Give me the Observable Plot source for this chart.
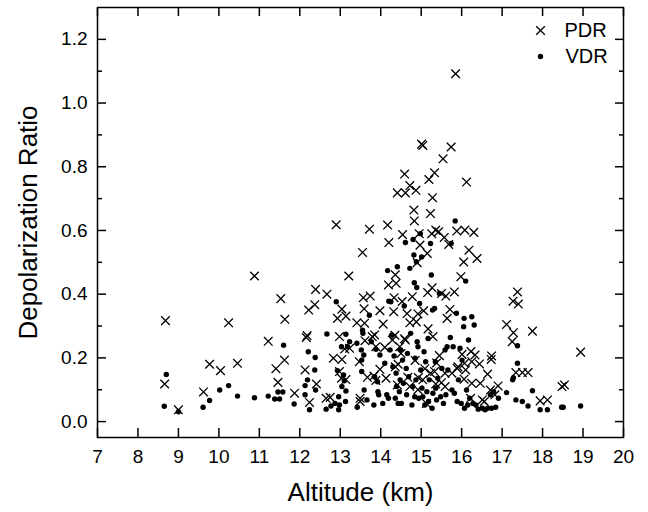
<!DOCTYPE html>
<html>
<head>
<meta charset="utf-8">
<script src="https://cdn.jsdelivr.net/npm/d3@7"></script>
<script src="https://cdn.jsdelivr.net/npm/@observablehq/plot@0.6"></script>
<style>
  html, body { margin: 0; padding: 0; background: #fff; }
</style>
</head>
<body>
<div id="chart"></div>
<script>
// PDR (particle depolarization ratio) points: altitude (km), ratio
const pdrAlt = [8.68,8.66,9.0,9.62,9.77,10.04,10.24,10.46,10.88,11.22,11.41,11.46,11.53,11.62,11.63,11.87,12.13,12.16,12.18,12.22,12.24,12.37,12.39,12.41,12.67,12.75,12.83,12.9,12.93,12.98,13.04,13.04,13.11,13.14,13.14,13.21,13.41,13.47,13.49,13.55,13.57,13.59,13.6,13.61,13.67,13.72,13.74,13.83,13.85,13.88,13.98,14.06,14.1,14.13,14.17,14.19,14.2,14.29,14.32,14.33,14.35,14.36,14.38,14.41,14.43,14.47,14.53,14.54,14.59,14.61,14.59,14.65,14.67,14.72,14.72,14.78,14.82,14.83,14.85,14.87,14.88,14.9,14.92,14.93,14.95,14.97,15.01,15.04,15.06,15.09,15.15,15.16,15.17,15.19,15.23,15.26,15.28,15.27,15.29,15.33,15.36,15.38,15.43,15.45,15.5,15.54,15.57,15.59,15.61,15.64,15.68,15.71,15.74,15.76,15.82,15.85,15.88,15.91,15.98,16.01,16.05,16.06,16.08,16.1,16.12,16.18,16.23,16.25,16.3,16.33,16.38,16.44,16.51,16.64,16.74,16.73,16.9,17.11,17.25,17.28,17.27,17.34,17.38,17.4,17.5,17.64,17.75,17.94,18.12,18.48,18.54,18.94,15.36,15.5,15.89,16.07,16.22,16.82,14.72,14.92,15.23,14.5,14.36,13.98,13.88,14.41,15.04,15.33,15.59,15.13,13.49,13.03,12.98,16.25,16.46,16.56,16.71,12.65,13.23,13.79,14.61];
const pdrRatio = [0.317,0.118,0.037,0.093,0.18,0.16,0.31,0.183,0.457,0.252,0.166,0.123,0.386,0.193,0.321,0.089,0.162,0.264,0.27,0.35,0.06,0.367,0.415,0.118,0.40,0.076,0.199,0.618,0.324,0.267,0.353,0.195,0.228,0.331,0.132,0.457,0.31,0.188,0.063,0.531,0.389,0.354,0.309,0.254,0.139,0.604,0.394,0.143,0.272,0.235,0.348,0.306,0.233,0.136,0.617,0.429,0.562,0.256,0.345,0.389,0.271,0.461,0.434,0.718,0.18,0.235,0.377,0.587,0.777,0.718,0.26,0.339,0.139,0.741,0.31,0.392,0.664,0.63,0.192,0.726,0.313,0.499,0.338,0.138,0.59,0.554,0.871,0.867,0.348,0.166,0.528,0.405,0.291,0.76,0.653,0.59,0.703,0.42,0.267,0.781,0.601,0.184,0.596,0.207,0.402,0.825,0.578,0.11,0.394,0.324,0.556,0.352,0.862,0.152,0.407,1.092,0.598,0.172,0.455,0.211,0.501,0.133,0.601,0.162,0.752,0.538,0.22,0.188,0.594,0.209,0.512,0.181,0.068,0.149,0.206,0.195,0.112,0.305,0.251,0.279,0.378,0.154,0.407,0.369,0.154,0.154,0.284,0.065,0.068,0.11,0.115,0.218,0.118,0.122,0.167,0.183,0.073,0.084,0.11,0.1,0.152,0.214,0.172,0.164,0.129,0.115,0.131,0.157,0.152,0.057,0.073,0.136,0.157,0.12,0.12,0.063,0.099,0.073,0.23,0.267,0.256];

// VDR (volume depolarization ratio) points: altitude (km), ratio
const vdrAlt = [8.65,8.7,9.0,9.61,9.77,10.02,10.24,10.46,10.88,11.22,11.38,11.5,11.46,11.58,11.6,11.86,12.13,12.13,12.19,12.21,12.24,12.37,12.38,12.39,12.65,12.67,12.77,12.87,12.9,12.93,12.96,12.96,12.98,13.03,13.04,13.08,13.1,13.13,13.14,13.14,13.18,13.23,13.41,13.42,13.52,13.53,13.53,13.55,13.56,13.58,13.59,13.66,13.72,13.77,13.83,13.85,13.88,13.92,13.93,13.95,13.98,14.05,14.1,14.15,14.17,14.19,14.2,14.23,14.25,14.27,14.3,14.33,14.36,14.38,14.39,14.41,14.43,14.46,14.48,14.49,14.51,14.54,14.56,14.58,14.61,14.63,14.64,14.66,14.69,14.72,14.74,14.77,14.79,14.8,14.82,14.83,14.84,14.85,14.87,14.88,14.89,14.9,14.92,14.94,14.96,14.98,14.99,15.01,15.02,15.04,15.07,15.09,15.11,15.14,15.17,15.18,15.2,15.23,15.25,15.27,15.28,15.29,15.33,15.35,15.36,15.38,15.41,15.45,15.48,15.51,15.55,15.59,15.61,15.64,15.66,15.72,15.74,15.76,15.79,15.82,15.84,15.87,15.89,15.92,15.96,15.99,16.01,16.05,16.06,16.07,16.1,16.12,16.15,16.17,16.2,16.25,16.28,16.31,16.35,16.41,16.51,16.58,16.64,16.71,16.74,16.79,16.84,16.91,17.11,17.26,17.28,17.34,17.38,17.38,17.5,17.64,17.75,17.94,18.12,18.47,18.51,18.94];
const vdrRatio = [0.048,0.148,0.031,0.045,0.066,0.099,0.113,0.08,0.075,0.08,0.071,0.071,0.093,0.093,0.24,0.055,0.113,0.084,0.131,0.219,0.037,0.162,0.201,0.099,0.039,0.275,0.049,0.057,0.376,0.16,0.078,0.037,0.052,0.235,0.11,0.146,0.128,0.063,0.096,0.274,0.235,0.251,0.246,0.045,0.225,0.193,0.157,0.287,0.277,0.209,0.099,0.068,0.334,0.251,0.052,0.141,0.227,0.125,0.094,0.084,0.209,0.057,0.183,0.084,0.474,0.073,0.378,0.225,0.376,0.272,0.172,0.206,0.073,0.152,0.11,0.486,0.057,0.094,0.131,0.225,0.057,0.193,0.12,0.363,0.562,0.167,0.084,0.214,0.141,0.481,0.277,0.052,0.11,0.572,0.523,0.436,0.078,0.199,0.131,0.502,0.421,0.251,0.235,0.073,0.371,0.59,0.162,0.517,0.105,0.078,0.219,0.052,0.188,0.094,0.261,0.063,0.131,0.559,0.46,0.042,0.35,0.089,0.355,0.188,0.105,0.068,0.136,0.402,0.078,0.167,0.057,0.225,0.084,0.235,0.162,0.264,0.559,0.099,0.235,0.089,0.63,0.34,0.063,0.131,0.23,0.057,0.193,0.298,0.324,0.042,0.441,0.099,0.052,0.256,0.073,0.329,0.057,0.303,0.052,0.039,0.042,0.037,0.042,0.084,0.042,0.094,0.045,0.073,0.091,0.131,0.138,0.068,0.238,0.183,0.063,0.049,0.097,0.037,0.037,0.045,0.045,0.049];

// Axis ticks and labels
const xTicks = [7,8,9,10,11,12,13,14,15,16,17,18,19,20];
const yMajorTicks = [0,0.2,0.4,0.6,0.8,1.0,1.2];
const yMinorTicks = [0.1,0.3,0.5,0.7,0.9,1.1];
const xLabel = "Altitude (km)";
const yLabel = "Depolarization Ratio";
const legendLabels = ["PDR", "VDR"];

const pdr = pdrAlt.map((a, i) => ({alt: a, ratio: pdrRatio[i]}));
const vdr = vdrAlt.map((a, i) => ({alt: a, ratio: vdrRatio[i]}));

const font = "'Liberation Sans', Arial, Helvetica, sans-serif";

const chart = Plot.plot({
  width: 648,
  height: 512,
  marginLeft: 97,
  marginRight: 25,
  marginTop: 7,
  marginBottom: 75,
  style: {fontFamily: font, background: "#fff", color: "#000", overflow: "visible"},
  x: {domain: [7, 20]},
  y: {domain: [-0.05, 1.3]},
  marks: [
    // tick labels
    Plot.axisX(xTicks, {anchor: "bottom", tickSize: 0, tickPadding: 12, fontSize: 19, tickFormat: d => String(d), label: null}),
    Plot.axisY(yMajorTicks, {anchor: "left", tickSize: 0, tickPadding: 10, fontSize: 19, tickFormat: d => d.toFixed(1), label: null}),
    // inward ticks
    Plot.axisX(xTicks, {anchor: "bottom", tickSize: -9, text: null, label: null, strokeWidth: 1.5}),
    Plot.axisX(xTicks, {anchor: "top", tickSize: -8, text: null, label: null, strokeWidth: 1.5}),
    Plot.axisY(yMajorTicks, {anchor: "left", tickSize: -9, text: null, label: null, strokeWidth: 1.5}),
    Plot.axisY(yMinorTicks, {anchor: "left", tickSize: -5, text: null, label: null, strokeWidth: 1.5}),
    Plot.axisY(yMajorTicks, {anchor: "right", tickSize: -9, text: null, label: null, strokeWidth: 1.5}),
    Plot.axisY(yMinorTicks, {anchor: "right", tickSize: -5, text: null, label: null, strokeWidth: 1.5}),
    Plot.frame({stroke: "#000", strokeWidth: 1.5}),
    // axis titles
    Plot.text([xLabel], {text: d => d, frameAnchor: "bottom", dy: 55, fontSize: 26, textAnchor: "middle", lineAnchor: "middle", fill: "#000"}),
    Plot.text([yLabel], {text: d => d, frameAnchor: "left", dx: -69, rotate: -90, fontSize: 26, textAnchor: "middle", lineAnchor: "middle", fill: "#000"}),
    // data
    Plot.dot(pdr, {x: "alt", y: "ratio", symbol: "times", r: 4, stroke: "#000", strokeWidth: 1.3}),
    Plot.dot(vdr, {x: "alt", y: "ratio", symbol: "circle", r: 2.7, fill: "#000", stroke: null}),
    // legend
    Plot.dot([legendLabels[0]], {frameAnchor: "top-right", dx: -83, dy: 23, symbol: "times", r: 4, stroke: "#000", strokeWidth: 1.3}),
    Plot.dot([legendLabels[1]], {frameAnchor: "top-right", dx: -83, dy: 49, symbol: "circle", r: 2.7, fill: "#000", stroke: null}),
    Plot.text([legendLabels[0]], {text: d => d, frameAnchor: "top-right", dx: -59, dy: 23, textAnchor: "start", lineAnchor: "middle", fontSize: 20, fill: "#000"}),
    Plot.text([legendLabels[1]], {text: d => d, frameAnchor: "top-right", dx: -58, dy: 49, textAnchor: "start", lineAnchor: "middle", fontSize: 20, fill: "#000"})
  ]
});

document.getElementById("chart").append(chart);
</script>
</body>
</html>
